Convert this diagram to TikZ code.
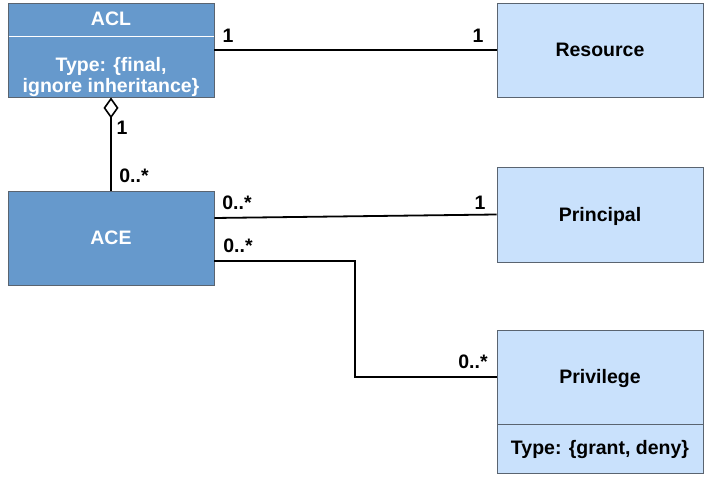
\documentclass[tikz,border=0pt]{standalone}
\usepackage{fontspec}
\setmainfont{Liberation Sans}
\usetikzlibrary{arrows.meta,positioning}
\definecolor{darkbox}{HTML}{6699CC}
\definecolor{lightbox}{HTML}{C9E1FC}
\definecolor{boxedge}{HTML}{5A6470}
\tikzset{
  cls/.style={draw=boxedge, line width=0.9pt, minimum width=206pt, inner sep=0pt, font=\fontsize{19.5}{21}\selectfont\bfseries},
  darkcls/.style={cls, fill=darkbox, text=white},
  lightcls/.style={cls, fill=lightbox, text=black},
  clsname/.style={text height=14pt, text depth=0pt},
  txt/.style={inner sep=0pt, font=\fontsize{19.5}{21}\selectfont\bfseries},
  mult/.style={inner sep=0pt, font=\fontsize{19.5}{21}\selectfont\bfseries},
  conn/.style={line width=1.8pt, black}
}
\begin{document}
\begin{tikzpicture}[x=1pt,y=-1pt]
\useasboundingbox (0,0) rectangle (716,492);
% ACL class
\node[darkcls, minimum height=94pt] (ACL) at (111,50) {};
\draw[white, line width=0.8pt] (8.5,36) -- (213.5,36);
\node[txt, text=white] (ACLname) at (111,19) {ACL};
\node[txt, text=white, align=center] (ACLattr) at (111,77.5) {Type: \{final,\\ignore inheritance\}};
% ACE class
\node[darkcls, clsname, minimum height=94pt] (ACE) at (111,238) {ACE};
% Resource
\node[lightcls, clsname, minimum height=94pt] (Resource) at (600,50) {Resource};
% Principal
\node[lightcls, clsname, minimum height=95pt] (Principal) at (600,214.5) {Principal};
% Privilege
\node[lightcls, clsname, minimum height=94pt] (Privilege) at (600,377) {Privilege};
\node[lightcls, minimum height=49pt, anchor=north] (PrivAttr) at (Privilege.south) {Type: \{grant, deny\}};
% connectors
\draw[conn] (ACL.east) -- (Resource.west);
\draw[conn, {Diamond[open, length=21pt, width=15pt, line width=1.6pt]}-] (ACL.south) -- (ACE.north);
\draw[conn] ([yshift=20pt]ACE.east) -- (Principal.west);
\coordinate (bend) at (355,0);
\draw[conn] ([yshift=-23pt]ACE.east) -| (bend |- Privilege.west) -- (Privilege.west);
% multiplicities
\node[mult] (m1) at (228,36) {1};
\node[mult] (m2) at (478,36) {1};
\node[mult] (m3) at (122,128) {1};
\node[mult] (m4) at (134,176) {0..*};
\node[mult] (m5) at (237,203) {0..*};
\node[mult] (m6) at (480,203) {1};
\node[mult] (m7) at (238,246) {0..*};
\node[mult] (m8) at (473,362) {0..*};
\end{tikzpicture}
\end{document}
